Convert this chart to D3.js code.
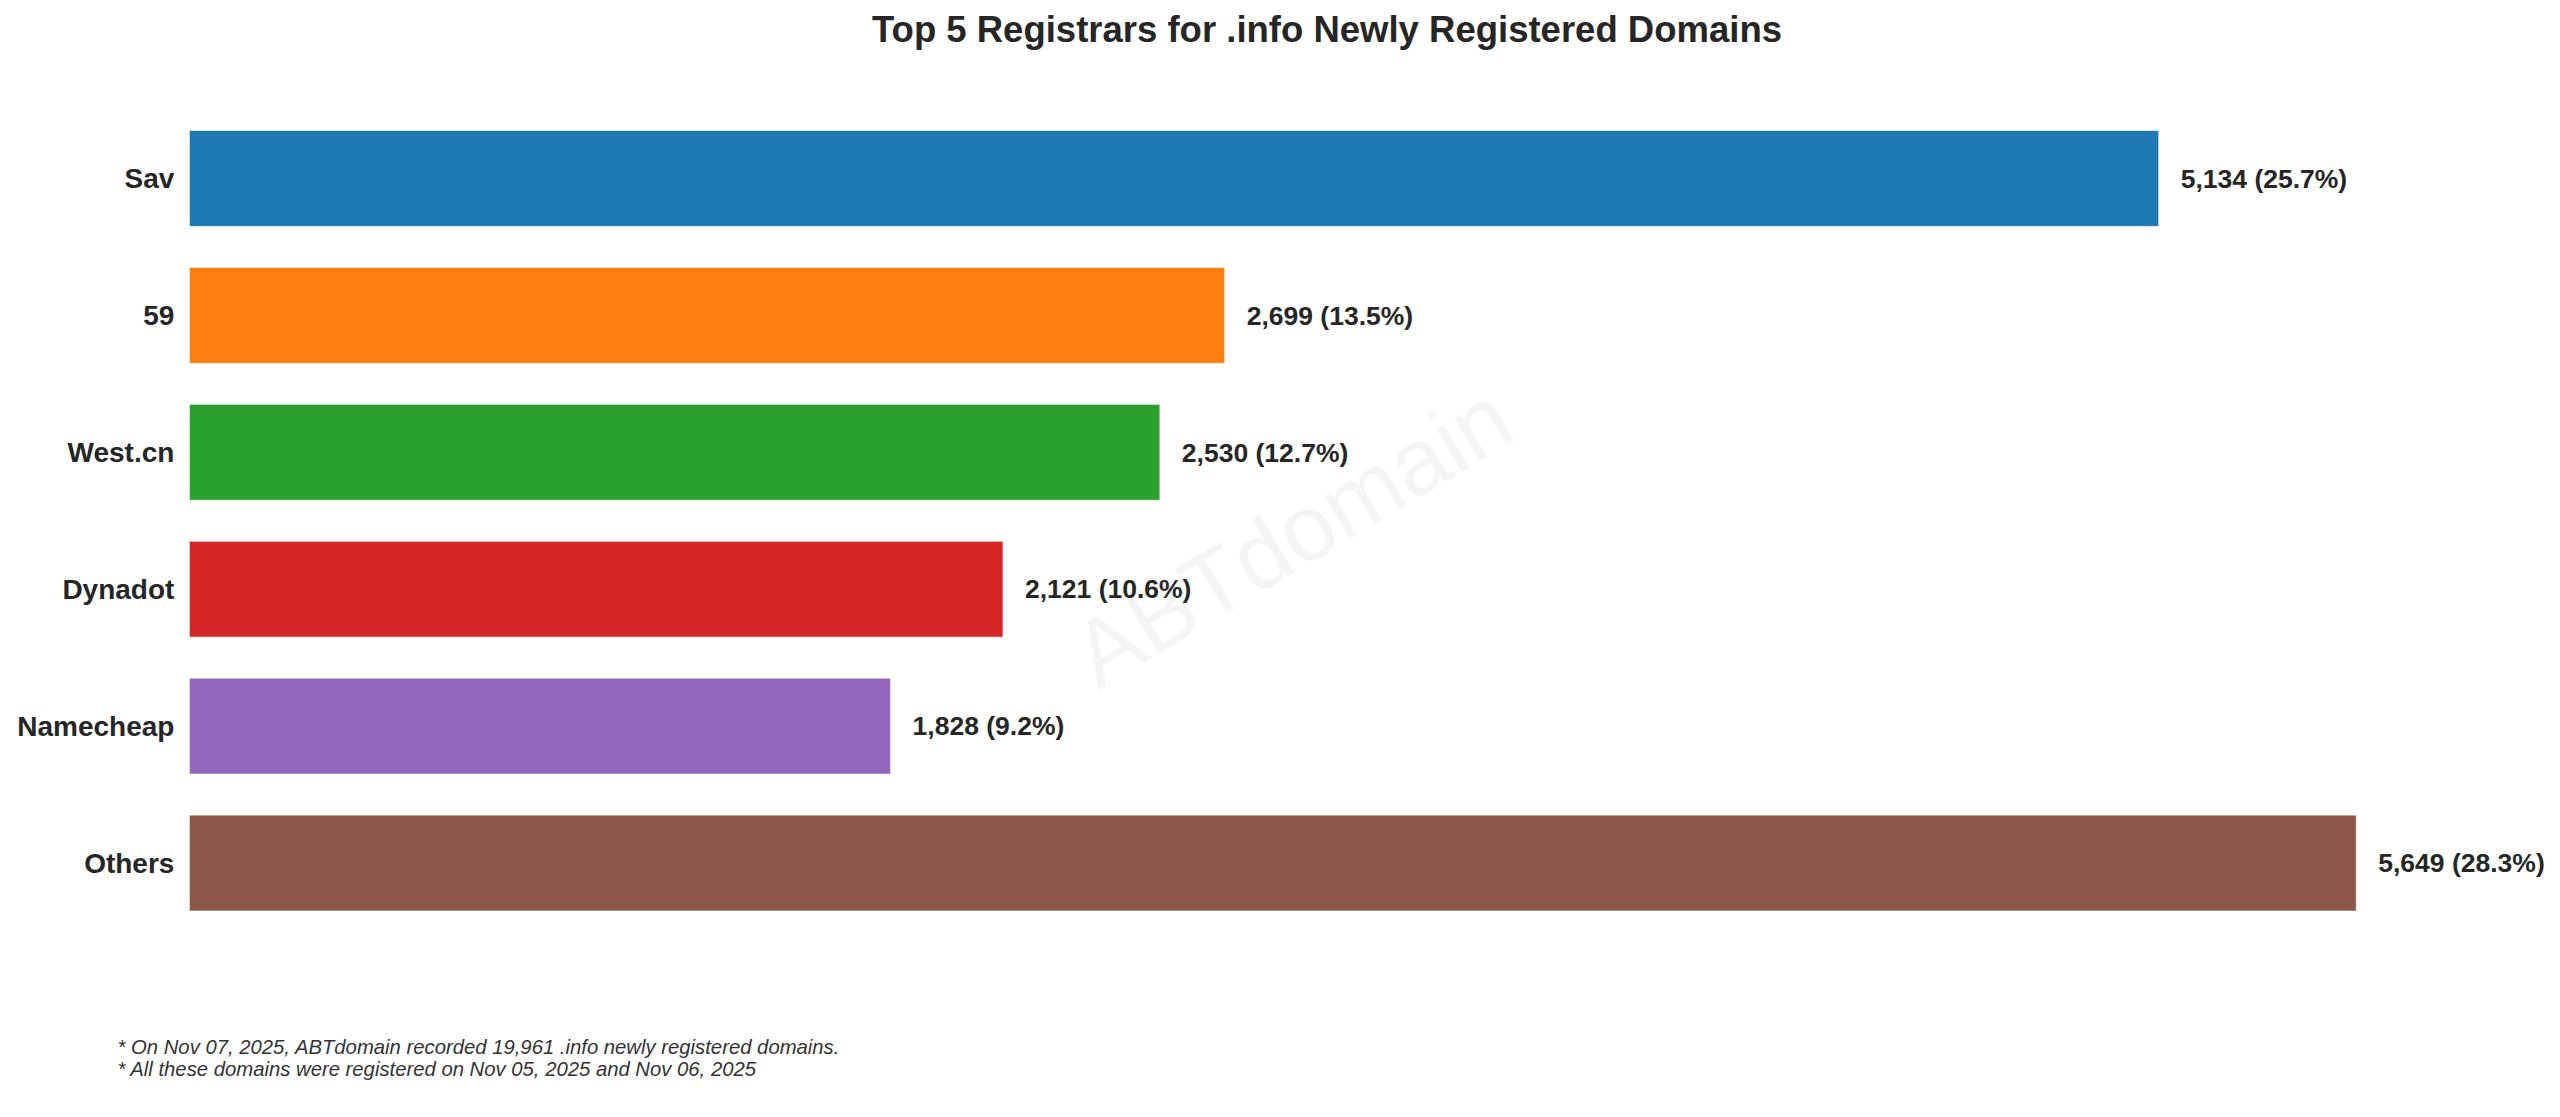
<!DOCTYPE html>
<html><head><meta charset="utf-8">
<script src="https://cdn.jsdelivr.net/npm/d3@7"></script>
<style>html,body{margin:0;padding:0;background:#fff;}</style>
</head><body>
<script>
const categories = ["Sav", "59", "West.cn", "Dynadot", "Namecheap", "Others"];
const counts = [5134, 2699, 2530, 2121, 1828, 5649];
const percents = [25.7, 13.5, 12.7, 10.6, 9.2, 28.3];
const colors = ["#1f77b4", "#ff7f0e", "#2ca02c", "#d62728", "#9467bd", "#8c564b"];
const titleText = "Top 5 Registrars for .info Newly Registered Domains";
const notes = ["* On Nov 07, 2025, ABTdomain recorded 19,961 .info newly registered domains.",
               "* All these domains were registered on Nov 05, 2025 and Nov 06, 2025"];

const W = 2560, H = 1117;
const axL = 189.4, axR = 2464.6, axT = 91.5, axB = 950;
const svg = d3.select("body").append("svg").attr("width", W).attr("height", H)
  .style("font-family", "Arial, 'Liberation Sans', sans-serif");

const data = categories.map((c, i) => ({c, v: counts[i], p: percents[i], col: colors[i]}));
const x = d3.scaleLinear().domain([0, d3.max(counts) * 1.05]).range([axL, axR]);
const n = categories.length;
const lo = -0.35 - 0.05 * (n - 1 + 0.7), hi = (n - 1) + 0.35 + 0.05 * (n - 1 + 0.7);
const yPos = d3.scaleLinear().domain([lo, hi]).range([axT, axB]);
const bh = yPos(0.35) - yPos(-0.35);

// watermark
const wx = 1292, wy = 536;
svg.append("text").attr("x", wx).attr("y", wy)
  .attr("transform", `rotate(-31 ${wx} ${wy})`)
  .attr("text-anchor", "middle").attr("dominant-baseline", "central")
  .attr("font-size", 94).attr("fill", "#000").attr("fill-opacity", 0.045)
  .text("ABTdomain");

svg.selectAll("rect.bar").data(data).join("rect").attr("class", "bar")
  .attr("x", x(0)).attr("y", (d, i) => yPos(i) - bh / 2)
  .attr("width", d => x(d.v) - x(0)).attr("height", bh)
  .attr("fill", d => d.col).attr("stroke", "#fff").attr("stroke-opacity", 0.6).attr("stroke-width", 1);

const yAxis = d3.axisLeft(d3.scaleOrdinal().domain(categories).range(categories.map((c, i) => yPos(i))))
  .tickSize(0).tickPadding(15);
const ga = svg.append("g").attr("transform", `translate(${axL},0)`).call(yAxis);
ga.select(".domain").remove();
ga.selectAll("text").attr("font-size", 28).attr("font-weight", "bold").attr("fill", "#262626")
  .attr("font-family", "Arial, 'Liberation Sans', sans-serif");

svg.selectAll("text.val").data(data).join("text").attr("class", "val")
  .attr("x", d => x(d.v) + 22).attr("y", (d, i) => yPos(i)).attr("dy", "0.35em")
  .attr("font-size", 26.5).attr("font-weight", "bold").attr("fill", "#262626")
  .text(d => `${d3.format(",")(d.v)} (${d.p.toFixed(1)}%)`);

svg.append("text").attr("x", (axL + axR) / 2).attr("y", 41.5).attr("text-anchor", "middle")
  .attr("font-size", 36.5).attr("font-weight", "bold").attr("fill", "#262626").text(titleText);

svg.selectAll("text.note").data(notes).join("text").attr("class", "note")
  .attr("x", 117.5).attr("y", (d, i) => 1054 + i * 22)
  .attr("font-size", 20.3).attr("font-style", "italic").attr("fill", "#333").text(d => d);
</script>
</body></html>
